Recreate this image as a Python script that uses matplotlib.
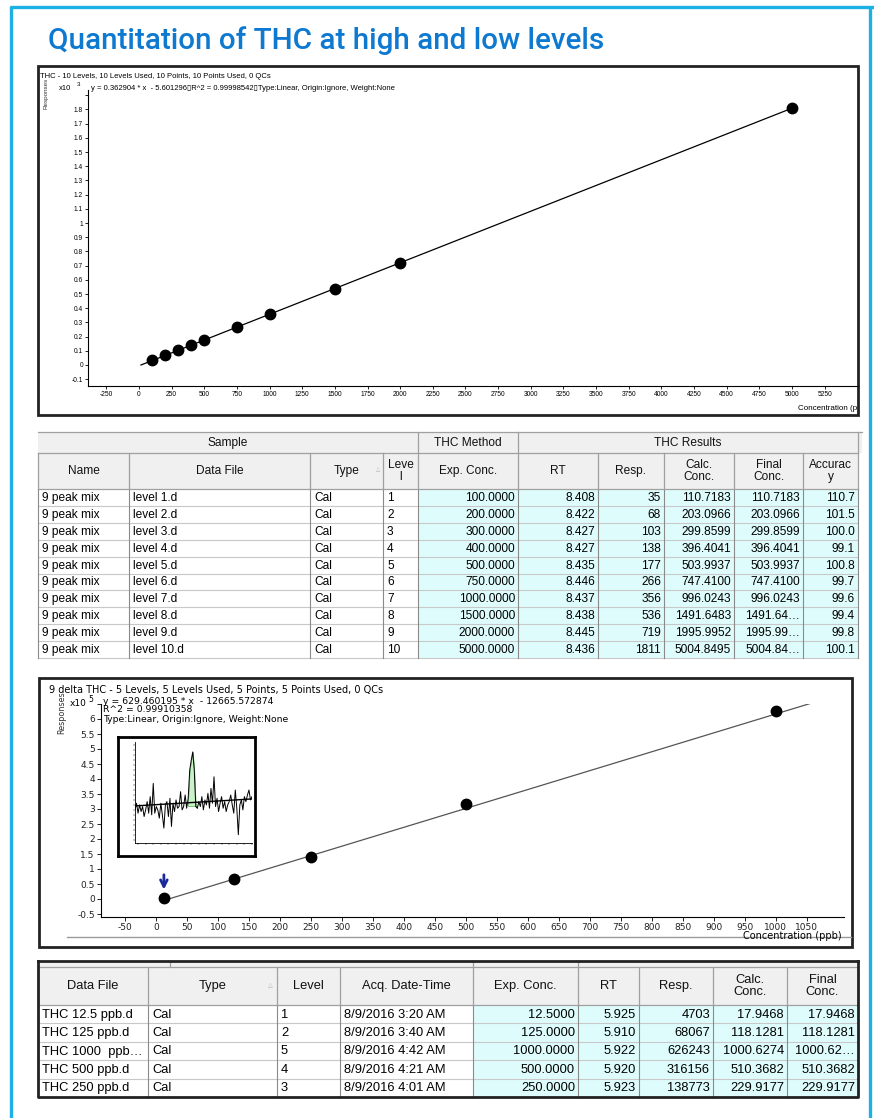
import matplotlib
matplotlib.use("Agg")
import matplotlib.pyplot as plt
from matplotlib.patches import Rectangle

plt.rcParams['font.family'] = ['Liberation Sans', 'DejaVu Sans']
plt.rcParams['axes.unicode_minus'] = False

W, H = 874, 1118

# ---- high level calibration (THC, 10 levels) ----
hi_names = ["9 peak mix"] * 10
hi_files = ["level 1.d", "level 2.d", "level 3.d", "level 4.d", "level 5.d",
            "level 6.d", "level 7.d", "level 8.d", "level 9.d", "level 10.d"]
hi_types = ["Cal"] * 10
hi_levels = [1, 2, 3, 4, 5, 6, 7, 8, 9, 10]
hi_conc = [100, 200, 300, 400, 500, 750, 1000, 1500, 2000, 5000]
hi_rt = ["8.408", "8.422", "8.427", "8.427", "8.435", "8.446", "8.437", "8.438", "8.445", "8.436"]
hi_resp = [35, 68, 103, 138, 177, 266, 356, 536, 719, 1811]
hi_calc = ["110.7183", "203.0966", "299.8599", "396.4041", "503.9937",
           "747.4100", "996.0243", "1491.6483", "1995.9952", "5004.8495"]
hi_final = ["110.7183", "203.0966", "299.8599", "396.4041", "503.9937",
            "747.4100", "996.0243", "1491.64\u2026", "1995.99\u2026", "5004.84\u2026"]
hi_acc = ["110.7", "101.5", "100.0", "99.1", "100.8", "99.7", "99.6", "99.4", "99.8", "100.1"]
hi_slope, hi_icpt = 0.362904, -5.601296

# ---- low level calibration (9 delta THC, 5 levels) ----
lo_files = ["THC 12.5 ppb.d", "THC 125 ppb.d", "THC 1000  ppb\u2026", "THC 500 ppb.d", "THC 250 ppb.d"]
lo_types = ["Cal"] * 5
lo_levels = [1, 2, 5, 4, 3]
lo_times = ["8/9/2016 3:20 AM", "8/9/2016 3:40 AM", "8/9/2016 4:42 AM",
            "8/9/2016 4:21 AM", "8/9/2016 4:01 AM"]
lo_conc = [12.5, 125, 1000, 500, 250]
lo_rt = ["5.925", "5.910", "5.922", "5.920", "5.923"]
lo_resp = [4703, 68067, 626243, 316156, 138773]
lo_calc = ["17.9468", "118.1281", "1000.6274", "510.3682", "229.9177"]
lo_final = ["17.9468", "118.1281", "1000.62\u2026", "510.3682", "229.9177"]
lo_slope, lo_icpt = 629.460195, -12665.572874

# ---- inset chromatogram (12.5 ppb), signal ----
inset_signal = [100, 120, 90, 115, 95, 110, 80, 100, 125, 90, 140, 85, 180, 90, 110, 100,
                75, 120, 85, 45, 115, 125, 80, 135, 50, 120, 95, 130, 105, 110, 155, 100,
                110, 145, 105, 135, 220, 250, 275, 220, 110, 105, 125, 110, 140, 100, 130,
                115, 150, 105, 165, 120, 200, 110, 135, 95, 120, 140, 105, 125, 95, 115,
                125, 145, 115, 90, 160, 105, 25, 115, 130, 100, 140, 125, 145, 160, 130, 140]
inset_base = [112, 133]
inset_peak = [35, 41]

fig = plt.figure(figsize=(W / 100, H / 100), dpi=100)
cv = fig.add_axes([0, 0, 1, 1])
cv.set_xlim(0, W)
cv.set_ylim(H, 0)
cv.axis('off')


def px_axes(l, t, r, b):
    return fig.add_axes([l / W, 1 - b / H, (r - l) / W, (b - t) / H])


# page frame + title
cyan = '#1cb0e4'
cv.plot([10, W], [7, 7], color=cyan, lw=2.4, solid_capstyle='butt')
cv.plot([11, 11], [6, H], color=cyan, lw=2.4, solid_capstyle='butt')
cv.plot([870, 870], [6, H], color=cyan, lw=2.4, solid_capstyle='butt')
cv.text(48, 41, "Quantitation of THC at high and low levels", fontsize=21.3,
        family='Roboto', weight='medium', color='#0d79d0', ha='left', va='center')

##############################################################################
# top chart
cv.add_patch(Rectangle((38, 66), 820, 349, fill=False, ec='#222222', lw=2))
cv.text(40, 76, "THC - 10 Levels, 10 Levels Used, 10 Points, 10 Points Used, 0 QCs",
        fontsize=5.5, va='center')
cv.text(46, 93, "Responses", fontsize=4.5, rotation=90, ha='center', va='center', color='#333333')
cv.text(59, 88, "x10", fontsize=5.5, va='center')
cv.text(77, 84, "3", fontsize=4.5, va='center')
cv.text(91, 88, "y = 0.362904 * x  - 5.601296\u25afR^2 = 0.99998542\u25afType:Linear, Origin:Ignore, Weight:None",
        fontsize=5.5, va='center')

ax1 = px_axes(88, 90, 858, 386)
ax1.patch.set_alpha(0)
xs = [(0 - hi_icpt) / hi_slope, max(hi_conc) + 30]
ax1.plot(xs, [(hi_slope * x + hi_icpt) / 1000 for x in xs], color='black', lw=0.9)
ax1.plot(hi_conc, [r / 1000 for r in hi_resp], 'o', color='black', ms=7.5)
ax1.set_xlim(-390, 5505)
ax1.set_ylim(-0.148, 1.937)
ax1.set_xticks(range(-250, 5251, 250))
yt = [round(-0.1 + 0.1 * i, 1) for i in range(21)]
ax1.set_yticks(yt)
ax1.set_yticklabels([f"{v:g}" if v < 1.85 else "" for v in yt])
for s in ['top', 'right']:
    ax1.spines[s].set_visible(False)
for s in ['left', 'bottom']:
    ax1.spines[s].set_linewidth(0.8)
ax1.tick_params(length=2.5, width=0.6, labelsize=4.8, pad=1)

pan1 = px_axes(38, 66, 857, 415)
pan1.set_xlim(38, 857)
pan1.set_ylim(415, 66)
pan1.axis('off')
pan1.text(798, 408, "Concentration (ppb)", fontsize=5.8, va='center', clip_on=True)

##############################################################################
# tables


def draw_table(edges, top, head_h, row_h, headers, cols, aligns, n_white, fs, hfs):
    hb = top + head_h
    cv.add_patch(Rectangle((edges[0], top), edges[-1] - edges[0], head_h, fc='#f0f0f0', ec='none'))
    for i, h in enumerate(headers):
        x0, x1 = edges[i], edges[i + 1]
        cv.text((x0 + x1) / 2, top + head_h / 2, h, fontsize=hfs, ha='center', va='center',
                linespacing=0.95, color='#111111')
    nrows = len(cols[0])
    for r in range(nrows):
        y0 = hb + r * row_h
        cv.add_patch(Rectangle((edges[n_white], y0), edges[-1] - edges[n_white], row_h,
                               fc='#dffcfc', ec='none'))
        for c, col in enumerate(cols):
            x0, x1 = edges[c], edges[c + 1]
            yc = y0 + row_h / 2 + 0.5
            if aligns[c] == 'l':
                cv.text(x0 + 4, yc, str(col[r]), fontsize=fs, ha='left', va='center')
            else:
                cv.text(x1 - 3, yc, str(col[r]), fontsize=fs, ha='right', va='center')
        cv.plot([edges[0], edges[-1]], [y0 + row_h, y0 + row_h], color='#c8c8c8', lw=0.8)
    bottom = hb + nrows * row_h
    for x in edges:
        cv.plot([x, x], [top, hb], color='#a0a0a0', lw=0.9)
        cv.plot([x, x], [hb, bottom], color='#8a8a8a', lw=0.8)
    cv.plot([edges[0], edges[-1]], [hb, hb], color='#a0a0a0', lw=0.9)
    cv.plot([edges[0], edges[-1]], [top, top], color='#a0a0a0', lw=0.9)
    return bottom


# top table
t_edges = [38, 129, 310, 383, 418, 518, 598, 664, 734, 803, 858]
cv.add_patch(Rectangle((38, 432), 824, 21, fc='#f0f0f0', ec='none'))
for x0, x1, lab in [(38, 418, "Sample"), (418, 518, "THC Method"), (518, 858, "THC Results")]:
    cv.text((x0 + x1) / 2, 443, lab, fontsize=8.6, ha='center', va='center', color='#111111')
    cv.plot([x1, x1], [432, 453], color='#a0a0a0', lw=0.9)
cv.plot([38, 862], [432, 432], color='#a0a0a0', lw=0.9)
draw_table(t_edges, 453, 36, 16.9,
           ["Name", "Data File", "Type", "Leve\nl", "Exp. Conc.", "RT", "Resp.",
            "Calc.\nConc.", "Final\nConc.", "Accurac\ny"],
           [hi_names, hi_files, hi_types, hi_levels, [f"{c:.4f}" for c in hi_conc],
            hi_rt, hi_resp, hi_calc, hi_final, hi_acc],
           ['l', 'l', 'l', 'l', 'r', 'r', 'r', 'r', 'r', 'r'], 4, 8.6, 8.6)
cv.text(378, 469, "\u25b3", fontsize=4, color='#b0b0b0', ha='center', va='center')

##############################################################################
# bottom chart
dv = ['DejaVu Sans']
cv.add_patch(Rectangle((39, 678), 813, 269, fill=False, ec='#222222', lw=2))
cv.plot([67, 851], [937, 937], color='#9a9a9a', lw=1)
cv.text(49, 690, "9 delta THC - 5 Levels, 5 Levels Used, 5 Points, 5 Points Used, 0 QCs",
        fontsize=7, va='center', family=dv)
cv.text(62, 713, "Responses", fontsize=5.8, rotation=90, ha='center', va='center',
        color='#333333', family=dv)
cv.text(70, 704, "x10", fontsize=6.5, va='center', family=dv)
cv.text(88, 700, "5", fontsize=5.5, va='center', family=dv)
cv.text(103, 701, "y = 629.460195 * x  - 12665.572874", fontsize=6.7, va='center', family=dv)
cv.text(103, 710, "R^2 = 0.99910358", fontsize=6.7, va='center', family=dv)
cv.text(103, 719.5, "Type:Linear, Origin:Ignore, Weight:None", fontsize=6.7, va='center', family=dv)
cv.text(842, 936, "Concentration (ppb)", fontsize=7, ha='right', va='center', family=dv)

ax2 = px_axes(101, 704, 844, 917)
ax2.patch.set_alpha(0)
xs = [min(lo_conc), 1095]
ax2.plot(xs, [(lo_slope * x + lo_icpt) / 1e5 for x in xs], color='#555555', lw=0.9)
ax2.plot(lo_conc, [r / 1e5 for r in lo_resp], 'o', color='black', ms=7.5)
ax2.annotate("", xy=(12.5, 0.22), xytext=(12.5, 0.9),
             arrowprops=dict(arrowstyle='->', color='#1a2a9c', lw=2, mutation_scale=12))
ax2.set_xlim(-89, 1110)
ax2.set_ylim(-0.6, 6.5)
ax2.set_xticks(range(-50, 1051, 50))
yt = [-0.5 + 0.5 * i for i in range(15)]
ax2.set_yticks(yt)
ax2.set_yticklabels([f"{v:g}" if v < 6.25 else "" for v in yt])
for s in ['top', 'right']:
    ax2.spines[s].set_visible(False)
for s in ['left', 'bottom']:
    ax2.spines[s].set_linewidth(0.8)
ax2.tick_params(length=3, width=0.7, labelsize=6.5, pad=1.5, colors='#222222')
for lab in ax2.get_xticklabels() + ax2.get_yticklabels():
    lab.set_family(dv)

# inset chromatogram
box = px_axes(118, 737, 255, 856)
box.set_xticks([])
box.set_yticks([])
for s in box.spines.values():
    s.set_linewidth(2)
ax3 = px_axes(135, 742, 252, 843)
n = len(inset_signal)
ix = list(range(n))
base = [inset_base[0] + (inset_base[1] - inset_base[0]) * i / (n - 1) for i in ix]
p0, p1 = inset_peak
ax3.fill_between(ix[p0:p1 + 1], [base[p0] - 10] * (p1 - p0 + 1), inset_signal[p0:p1 + 1],
                 color='#c9f2c9', ec='#3a9a3a', lw=0.4)
ax3.plot(ix, inset_signal, color='black', lw=0.7)
ax3.plot([0, n - 1], inset_base, color='black', lw=1)
ax3.set_xlim(0, n - 1)
ax3.set_ylim(0, 305)
for s in ['top', 'right']:
    ax3.spines[s].set_visible(False)
for s in ['left', 'bottom']:
    ax3.spines[s].set_linewidth(0.6)
ax3.set_xticks(range(2, n, 5))
ax3.set_yticks(range(10, 300, 15))
ax3.tick_params(length=1.2, width=0.3, labelleft=False, labelbottom=False)

##############################################################################
# bottom table
b_edges = [38, 148, 277, 340, 473, 578, 639, 713, 787, 858]
cv.add_patch(Rectangle((38, 961), 820, 6, fc='#f0f0f0', ec='none'))
for x in [170, 473, 578]:
    cv.plot([x, x], [961, 967], color='#a0a0a0', lw=0.9)
bot = draw_table(b_edges, 967, 38, 18.4,
                 ["Data File", "Type", "Level", "Acq. Date-Time", "Exp. Conc.", "RT", "Resp.",
                  "Calc.\nConc.", "Final\nConc."],
                 [lo_files, lo_types, lo_levels, lo_times, [f"{c:.4f}" for c in lo_conc],
                  lo_rt, lo_resp, lo_calc, lo_final],
                 ['l', 'l', 'l', 'l', 'r', 'r', 'r', 'r', 'r'], 4, 9.3, 9.3)
cv.text(270, 985, "\u25b3", fontsize=4.5, color='#b0b0b0', ha='center', va='center')
cv.plot([38, 858], [961, 961], color='#222222', lw=2)
cv.plot([38, 38, 858, 858], [961, bot, bot, 961], color='#222222', lw=2)

fig.savefig("out.png", dpi=100)
